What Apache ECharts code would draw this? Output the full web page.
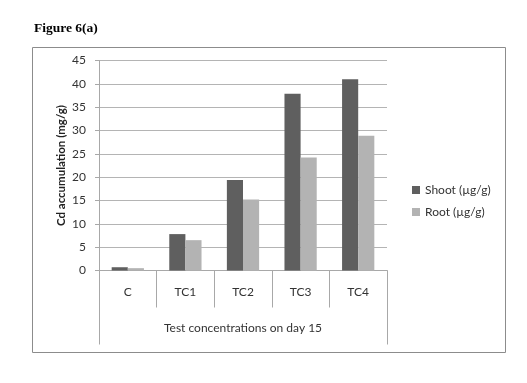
<!DOCTYPE html>
<html><head><meta charset="utf-8">
<script src="https://cdn.jsdelivr.net/npm/echarts@6/dist/echarts.min.js"></script>
<style>html,body{margin:0;padding:0;background:#fff}#c{width:527px;height:383px}</style>
</head><body><div id="c"></div>
<script>
const categories = ['C', 'TC1', 'TC2', 'TC3', 'TC4'];
const shoot = [0.7, 7.8, 19.4, 37.9, 41.0];
const root = [0.5, 6.5, 15.2, 24.2, 28.9];
const yTicks = [0, 5, 10, 15, 20, 25, 30, 35, 40, 45];
const seriesNames = ['Shoot (µg/g)', 'Root (µg/g)'];
const xTitle = 'Test concentrations on day 15';
const yTitle = 'Cd accumulation (mg/g)';
const figTitle = 'Figure 6(a)';

const FONT = 'Lato';
const chart = echarts.init(document.getElementById('c'), null, {renderer: 'canvas'});
chart.setOption({
  animation: false,
  title: {text: figTitle, left: 29, top: 17, textStyle: {fontFamily: 'Liberation Serif', fontWeight: 'bold', fontSize: 13.5, color: '#000'}},
  graphic: [{type: 'rect', left: 30, top: 45, shape: {width: 473, height: 305}, style: {fill: 'none', stroke: '#8c8c8c', lineWidth: 1}}],
  legend: {
    orient: 'vertical', left: 407, top: 179, itemWidth: 8, itemHeight: 8, itemGap: 10,
    icon: 'rect', textStyle: {fontFamily: FONT, fontSize: 12, color: '#333'},
    data: seriesNames
  },
  grid: {left: 99, right: 140, top: 60.5, bottom: 112.5},
  xAxis: [{
    type: 'category', data: categories, position: 'bottom',
    axisLine: {show: true, lineStyle: {color: '#a8a8a8'}},
    axisTick: {show: true, length: 37, lineStyle: {color: '#a8a8a8'}},
    axisLabel: {margin: 16, fontFamily: FONT, fontSize: 12, color: '#333'}
  }, {
    type: 'category', data: [xTitle], position: 'bottom',
    axisLine: {show: false},
    axisTick: {show: true, length: 74, lineStyle: {color: '#a8a8a8'}},
    axisLabel: {margin: 52, fontFamily: FONT, fontSize: 12, color: '#333'}
  }],
  yAxis: {
    type: 'value', min: 0, max: 45, interval: 5,
    name: yTitle, nameLocation: 'middle', nameGap: 32, nameRotate: 90, nameMoveOverlap: false,
    nameTextStyle: {fontFamily: FONT, fontWeight: 'bold', fontSize: 11.5, color: '#222'},
    axisLine: {show: true, lineStyle: {color: '#a8a8a8'}},
    axisTick: {show: true, length: 4, lineStyle: {color: '#a8a8a8'}},
    axisLabel: {margin: 13, fontFamily: FONT, fontSize: 12, color: '#333',
      formatter: v => yTicks.includes(v) ? String(v) : ''},
    splitLine: {show: true, lineStyle: {color: '#b4b4b4'}}
  },
  series: [
    {name: seriesNames[0], type: 'bar', data: shoot, xAxisIndex: 0, barGap: '0%', barCategoryGap: '44%', itemStyle: {color: '#5f5f5f'}},
    {name: seriesNames[1], type: 'bar', data: root, xAxisIndex: 0, barGap: '0%', barCategoryGap: '44%', itemStyle: {color: '#b3b3b3'}}
  ]
});
</script></body></html>
